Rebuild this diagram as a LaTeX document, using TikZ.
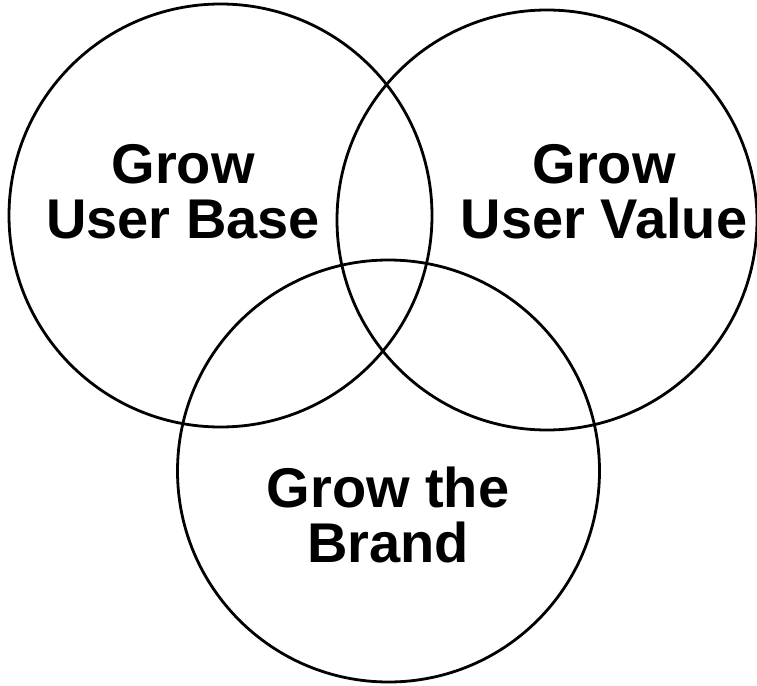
\documentclass[tikz,border=0pt]{standalone}
\usepackage{fontspec}
\setmainfont{Liberation Sans}
\begin{document}
\begin{tikzpicture}[x=1pt,y=-1pt,
  ring/.style={draw=black,line width=2.8pt},
  label/.style={align=center,font=\bfseries\fontsize{56}{55}\selectfont,inner sep=0pt}]
\useasboundingbox (0,0) rectangle (757,685);
% the three overlapping circles
\draw[ring] (220.5,215.5) circle[radius=211.5];
\draw[ring] (547,220) circle[radius=210];
\draw[ring] (388.5,471) circle[radius=211];
% circle captions
\node[label] (base)  at (183,192) {Grow\\User Base};
\node[label] (value) at (604,192) {Grow\\User Value};
\node[label] (brand) at (388,515) {Grow the\\Brand};
\end{tikzpicture}
\end{document}
